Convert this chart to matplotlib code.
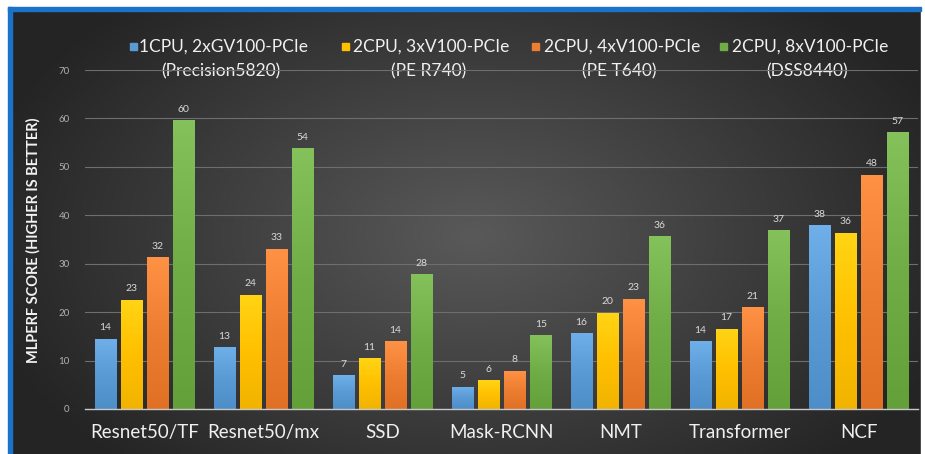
"""
MLPerf scores per benchmark for four Dell server configurations.
"""

import numpy as np
import matplotlib
matplotlib.use("Agg")
import matplotlib.pyplot as plt
from matplotlib.patches import Rectangle
from matplotlib.colors import LinearSegmentedColormap, to_rgb

plt.rcParams["font.family"] = ["Lato", "DejaVu Sans"]

benchmarks = ["Resnet50/TF", "Resnet50/mx", "SSD", "Mask-RCNN", "NMT", "Transformer", "NCF"]

series_names = [
    "1CPU, 2xGV100-PCIe",
    "2CPU, 3xV100-PCIe",
    "2CPU, 4xV100-PCIe",
    "2CPU, 8xV100-PCIe",
]
series_systems = ["(Precision5820)", "(PE R740)", "(PE T640)", "(DSS8440)"]

precision5820 = [14.5, 12.7, 7.0, 4.6, 15.7, 14.0, 37.9]
pe_r740 = [22.6, 23.6, 10.5, 5.9, 19.9, 16.6, 36.4]
pe_t640 = [31.4, 33.1, 14.0, 7.9, 22.8, 21.0, 48.4]
dss8440 = [59.7, 53.8, 27.8, 15.3, 35.7, 36.9, 57.2]

# labels as printed on the chart (rounded)
labels_precision5820 = [14, 13, 7, 5, 16, 14, 38]
labels_pe_r740 = [23, 24, 11, 6, 20, 17, 36]
labels_pe_t640 = [32, 33, 14, 8, 23, 21, 48]
labels_dss8440 = [60, 54, 28, 15, 36, 37, 57]

yticks = [0, 10, 20, 30, 40, 50, 60, 70]

colors = ["#5b9bd5", "#ffc000", "#ed7d31", "#70ad47"]


def bar_gradient(ax, bar, color):
    base = np.array(to_rgb(color))
    top = np.clip(base + 0.08, 0, 1)
    bottom = np.clip(base - 0.05, 0, 1)
    cmap = LinearSegmentedColormap.from_list("g", [bottom, base, top])
    x0, y0 = bar.get_x(), bar.get_y()
    w, h = bar.get_width(), bar.get_height()
    grad = np.linspace(0, 1, 64).reshape(-1, 1)
    im = ax.imshow(grad, cmap=cmap, origin="lower", aspect="auto",
                   extent=(x0, x0 + w, y0, y0 + h), zorder=3)
    im.set_clip_path(bar)


def main():
    fig = plt.figure(figsize=(9.25, 4.54), dpi=100)

    # background: dark radial gradient, blue frame top and left
    bg = fig.add_axes([0, 0, 1, 1])
    bg.set_xlim(0, 925)
    bg.set_ylim(454, 0)
    bg.axis("off")
    xx, yy = np.meshgrid(np.linspace(0, 925, 300), np.linspace(0, 454, 150))
    r = np.sqrt(((xx - 470) / 520) ** 2 + ((yy - 230) / 330) ** 2)
    shade = np.clip(1 - r, 0, 1)
    bg_cmap = LinearSegmentedColormap.from_list("bg", ["#242424", "#595959"])
    bg.imshow(shade, cmap=bg_cmap, extent=(12, 921, 454, 11), aspect="auto", zorder=0)
    bg.add_patch(Rectangle((0, 0), 925, 7, color="white", zorder=1))
    bg.add_patch(Rectangle((0, 0), 8, 454, color="white", zorder=1))
    bg.add_patch(Rectangle((921, 0), 4, 454, color="white", zorder=1))
    bg.add_patch(Rectangle((8, 7), 913, 4, color="#1a73c9", zorder=2))
    bg.add_patch(Rectangle((8, 7), 4, 447, color="#1a73c9", zorder=2))

    ax = fig.add_axes([85 / 925, 1 - 409 / 454, 833 / 925, 339 / 454])
    ax.set_facecolor("none")

    series = [precision5820, pe_r740, pe_t640, dss8440]
    labels = [labels_precision5820, labels_pe_r740, labels_pe_t640, labels_dss8440]
    x = np.arange(len(benchmarks))
    width = 0.18
    step = 0.22
    for i, (vals, labs, color) in enumerate(zip(series, labels, colors)):
        pos = x + (i - 1.5) * step
        bars = ax.bar(pos, vals, width, color=color, edgecolor="#2a2a2a",
                      linewidth=0.6, zorder=3)
        for b in bars:
            bar_gradient(ax, b, color)
        for p, v, lab in zip(pos, vals, labs):
            ax.text(p, v + 1.3, str(lab), ha="center", va="bottom",
                    fontsize=7.5, color="#d9d9d9", zorder=4)

    ax.set_xlim(-0.5, len(benchmarks) - 0.5)
    ax.set_ylim(0, 70)
    ax.set_yticks(yticks)
    ax.set_xticks(x)
    ax.set_xticklabels(benchmarks, fontsize=13.5, color="#f0f0f0")
    ax.tick_params(axis="x", length=0, pad=11)
    ax.tick_params(axis="y", length=0, pad=11, labelsize=7, labelcolor="#b0b0b0")
    ax.yaxis.grid(True, color="#6e6e6e", linewidth=0.8, zorder=1)
    ax.set_axisbelow(True)
    for side in ["top", "right", "left"]:
        ax.spines[side].set_visible(False)
    ax.spines["bottom"].set_color("#c8c8c8")
    ax.spines["bottom"].set_linewidth(1.0)
    ax.spines["bottom"].set_zorder(5)

    fig.text(33 / 925, 1 - 240 / 454, "MLPERF SCORE (HIGHER IS BETTER)",
             rotation=90, ha="center", va="center", fontsize=10.5,
             fontweight="bold", color="#f2f2f2")

    # legend drawn by hand: square + two centred lines
    square_x = [130, 342, 532, 720]
    text_x = [139, 353, 544, 732]
    for sx, tx, name, system, color in zip(square_x, text_x, series_names,
                                           series_systems, colors):
        bg.add_patch(Rectangle((sx, 43), 7, 7, color=color, zorder=3))
        t = bg.text(tx, 47, name, ha="left", va="center", fontsize=12.5,
                    color="#f0f0f0", zorder=3)
        fig.canvas.draw()
        bb = t.get_window_extent()
        inv = bg.transData.inverted()
        (x0, _), (x1, _) = inv.transform([(bb.x0, bb.y0), (bb.x1, bb.y1)])
        bg.text((x0 + x1) / 2 - 3, 71, system, ha="center", va="center",
                fontsize=12.5, color="#f0f0f0", zorder=3)

    fig.savefig("out.png", dpi=100)


if __name__ == "__main__":
    main()
